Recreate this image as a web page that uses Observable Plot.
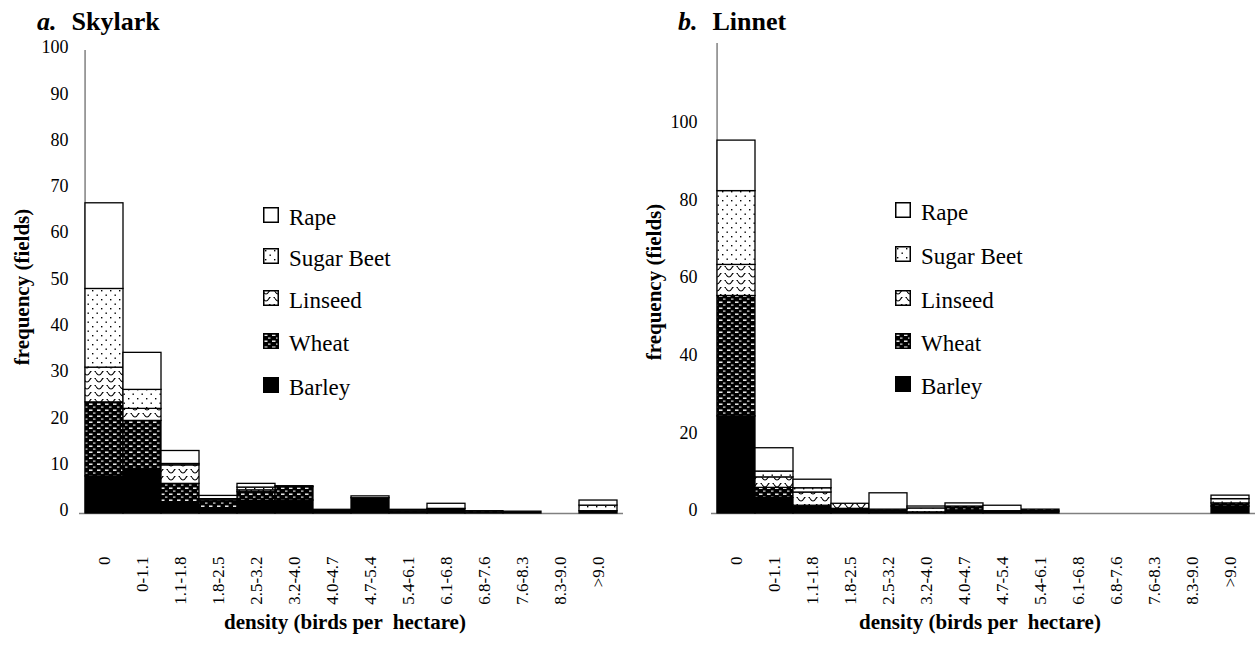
<!DOCTYPE html>
<html><head><meta charset="utf-8">
<script src="https://cdn.jsdelivr.net/npm/d3@7"></script>
<script src="https://cdn.jsdelivr.net/npm/@observablehq/plot@0.6"></script>
<style>
body{margin:0;background:#fff;font-family:"Liberation Serif","Times New Roman",serif;color:#000}
#wrap{position:relative;width:1259px;height:653px;overflow:hidden}
.abs{position:absolute;white-space:pre;color:#000;line-height:1}
.plot{position:absolute;top:0}
.leg{display:flex;align-items:center;font-size:23px}
.leg svg{margin-right:10px;flex:none}
.leg span{position:relative;top:3px}
.ttl{font-size:26px;font-weight:bold}
.ttl span{margin-left:15px}
.axt{font-size:21px;font-weight:bold}
</style></head><body>
<svg width="0" height="0" style="position:absolute">
<defs>
<pattern id="pRape" width="8" height="8" patternUnits="userSpaceOnUse"><rect width="8" height="8" fill="#fff"/></pattern>
<pattern id="pSugar" width="9" height="9" patternUnits="userSpaceOnUse"><rect width="9" height="9" fill="#fff"/><rect x="2" y="2" width="1.4" height="1.4" fill="#000"/><rect x="6.5" y="6.5" width="1.4" height="1.4" fill="#000"/></pattern>
<pattern id="pLin" width="12" height="7" patternUnits="userSpaceOnUse"><rect width="12" height="7" fill="#fff"/><path d="M0,1.5 Q3,6.5 6,1.5 T12,1.5" fill="none" stroke="#000" stroke-width="1.2"/></pattern>
<pattern id="pWheat" width="8" height="6" patternUnits="userSpaceOnUse"><rect width="8" height="6" fill="#000"/><rect x="1" y="1.5" width="3.5" height="1.4" fill="#fff"/><rect x="5" y="4.5" width="2.5" height="1.2" fill="#ddd"/></pattern>
<pattern id="pBarley" width="8" height="8" patternUnits="userSpaceOnUse"><rect width="8" height="8" fill="#000"/></pattern>
</defs></svg>
<div id="wrap"></div>
<script>
// ---- data ----
const bins = ["0","0-1.1","1.1-1.8","1.8-2.5","2.5-3.2","3.2-4.0","4.0-4.7","4.7-5.4","5.4-6.1","6.1-6.8","6.8-7.6","7.6-8.3","8.3-9.0",">9.0"];
const crops = ["Barley","Wheat","Linseed","Sugar Beet","Rape"];
const cropFills = ["url(#pBarley)","url(#pWheat)","url(#pLin)","url(#pSugar)","url(#pRape)"];

// Skylark (a)
const skyBarley  = [8,   9.4, 2.4, 1.0, 2.7, 2.8, 0.8, 3.3, 0.4, 1.0, 0.2, 0.4, 0, 0.5];
const skyWheat   = [16,  10.6,4.0, 1.8, 1.9, 2.9, 0,   0,   0.2, 0,   0.3, 0,   0, 0];
const skyLinseed = [7.5, 2.6, 4.0, 0,   0.4, 0,   0,   0,   0,   0,   0,   0,   0, 0];
const skySugar   = [17,  4.1, 0.3, 0.3, 0.6, 0,   0,   0,   0,   0,   0,   0,   0, 1.2];
const skyRape    = [18.5,8.0, 2.8, 0.7, 0.8, 0.2, 0,   0.4, 0.2, 1.1, 0,   0,   0, 1.1];

// Linnet (b)
const linBarley  = [25,  4.0, 2.0, 1.2, 0.5, 0.3, 0.8, 0.6, 0.5, 0, 0, 0, 0, 1.8];
const linWheat   = [31,  2.6, 0,   0,   0.5, 0,   1.0, 0,   0.5, 0, 0, 0, 0, 0.8];
const linLinseed = [8,   2.7, 3.4, 1.3, 0,   1.0, 0,   0,   0,   0, 0, 0, 0, 0];
const linSugar   = [19,  1.5, 1.1, 0,   0,   0,   0,   0,   0,   0, 0, 0, 0, 1.1];
const linRape    = [13,  6.0, 2.2, 0,   4.2, 0.5, 0.8, 1.4, 0,   0, 0, 0, 0, 0.9];

const skyTicks = [0,10,20,30,40,50,60,70,80,90,100];
const linTicks = [0,20,40,60,80,100];

// ---- build ----
const wrap = document.getElementById("wrap");

function makeChart(series, cfg) {
  const data = [];
  crops.forEach((c, i) => bins.forEach((b, j) => {
    if (series[i][j] > 0) data.push({bin: b, crop: c, value: series[i][j]});
  }));
  const bw = (cfg.width - cfg.ml - cfg.mr) / bins.length;
  const svg = Plot.plot({
    width: cfg.width, height: 653,
    marginLeft: cfg.ml, marginRight: cfg.mr, marginTop: cfg.mt, marginBottom: 140,
    style: {fontFamily: "'Liberation Serif','Times New Roman',serif", fontSize: "17px", color: "#000", background: "transparent"},
    x: {type: "band", domain: bins, padding: 0, axis: null},
    y: {domain: [0, cfg.yMax], axis: null},
    color: {type: "ordinal", domain: crops, range: cropFills},
    marks: [
      Plot.axisY({ticks: cfg.ticks, tickSize: 0, tickPadding: cfg.tp, fontSize: 18, dy: -3, label: null}),
      Plot.axisX({tickRotate: -90, tickSize: 0, tickPadding: 43, fontSize: 17, label: null}),
      Plot.ruleY([0], {stroke: "#808080", strokeWidth: 1.5}),
      Plot.ruleX([bins[0]], {dx: -bw / 2, stroke: "#808080", strokeWidth: 1.5}),
      Plot.barY(data, {x: "bin", y: "value", fill: "crop", stroke: "#000", strokeWidth: 1.3})
    ]
  });
  svg.classList.add("plot");
  svg.style.left = cfg.left + "px";
  wrap.appendChild(svg);
}

makeChart([skyBarley, skyWheat, skyLinseed, skySugar, skyRape],
  {left: 0, width: 630, ml: 79, mr: 7, mt: 50, yMax: 100, ticks: skyTicks, tp: 11});
makeChart([linBarley, linWheat, linLinseed, linSugar, linRape],
  {left: 630, width: 629, ml: 81, mr: 4, mt: 43, yMax: 121, ticks: linTicks, tp: 14});

function addText(html, cls, left, top, extra) {
  const d = document.createElement("div");
  d.className = "abs " + cls;
  d.innerHTML = html;
  d.style.left = left + "px"; d.style.top = top + "px";
  if (extra) Object.assign(d.style, extra);
  wrap.appendChild(d);
  return d;
}

addText("<i>a.</i><span>Skylark</span>", "ttl", 37, 9);
addText("<i>b.</i><span>Linnet</span>", "ttl", 678, 9);

addText("density (birds per  hectare)", "axt", 345, 622, {transform: "translate(-50%,-50%)"});
addText("density (birds per  hectare)", "axt", 980, 622, {transform: "translate(-50%,-50%)"});
addText("frequency (fields)", "axt", 22, 287, {transform: "translate(-50%,-50%) rotate(-90deg)"});
addText("frequency (fields)", "axt", 654, 282, {transform: "translate(-50%,-50%) rotate(-90deg)"});

function legend(left, tops) {
  const order = crops.map((c, i) => i).reverse();
  order.forEach((i, k) => {
    const sw = `<svg width="16" height="16"><rect x="0.75" y="0.75" width="14.5" height="14.5" fill="${cropFills[i]}" stroke="#000" stroke-width="1.5"/></svg>`;
    addText(sw + "<span>" + crops[i] + "</span>", "leg", left, tops[k] - 4);
  });
}
legend(263, [207, 248, 290, 333, 377]);
legend(895, [202, 246, 290, 333, 376]);
</script>
</body></html>
